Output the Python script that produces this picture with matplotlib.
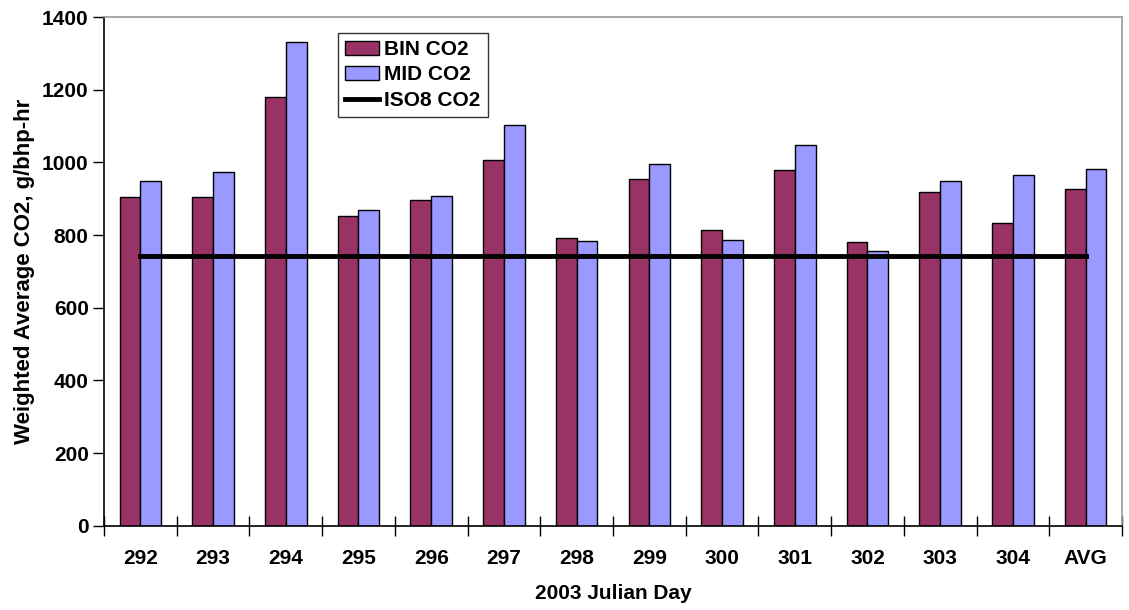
import numpy as np
import matplotlib
matplotlib.use('Agg')
import matplotlib.pyplot as plt

plt.rcParams['font.family'] = ['Liberation Sans', 'DejaVu Sans']
plt.rcParams['font.weight'] = 'bold'

days = ['292', '293', '294', '295', '296', '297', '298', '299', '300', '301', '302', '303', '304', 'AVG']
bin_co2 = [905, 905, 1179, 852, 896, 1006, 792, 954, 813, 978, 782, 919, 832, 927]
mid_co2 = [950, 973, 1331, 868, 909, 1103, 783, 995, 786, 1047, 756, 950, 965, 981]
iso8_co2 = [742] * len(days)

x = np.arange(len(days))
w = 0.2857

fig = plt.figure(figsize=(11.29, 6.10), dpi=100)
ax = fig.add_axes([0.0921, 0.138, 0.9017, 0.834])

b1 = ax.bar(x - w / 2, bin_co2, w, color='#993366', edgecolor='black', linewidth=1, label='BIN CO2', zorder=2)
b2 = ax.bar(x + w / 2, mid_co2, w, color='#9999FF', edgecolor='black', linewidth=1, label='MID CO2', zorder=2)
l1, = ax.plot(x, iso8_co2, color='black', linewidth=3.5, label='ISO8 CO2', zorder=3)

ax.set_xlim(-0.5, len(days) - 0.5)
ax.set_ylim(0, 1400)
ax.set_yticks(np.arange(0, 1401, 200))
ax.set_xticks(x)
ax.set_xticklabels(days)
ax.set_xticks(np.arange(-0.5, len(days), 1), minor=True)
ax.tick_params(axis='x', which='major', length=0, labelsize=15, pad=17)
ax.tick_params(axis='x', which='minor', direction='inout', length=14, width=1)
ax.tick_params(axis='y', direction='out', length=8, width=1, labelsize=15, pad=3)

for s in ['top', 'right']:
    ax.spines[s].set_color('#999999')
    ax.spines[s].set_linewidth(1.2)
for s in ['left', 'bottom']:
    ax.spines[s].set_color('black')
    ax.spines[s].set_linewidth(1.2)

ax.set_ylabel('Weighted Average CO2, g/bhp-hr', fontsize=16, fontweight='bold', labelpad=5)
ax.set_xlabel('2003 Julian Day', fontsize=15, fontweight='bold', labelpad=11)

leg = ax.legend([b1, b2, l1], ['BIN CO2', 'MID CO2', 'ISO8 CO2'],
                loc='upper left', bbox_to_anchor=(0.2300, 0.969), fontsize=15, frameon=True,
                fancybox=False, edgecolor='black', handlelength=1.6, handleheight=0.65,
                borderpad=0.35, labelspacing=0.3, handletextpad=0.25, borderaxespad=0)
leg.get_frame().set_linewidth(1)

fig.savefig('out.png', dpi=100)
